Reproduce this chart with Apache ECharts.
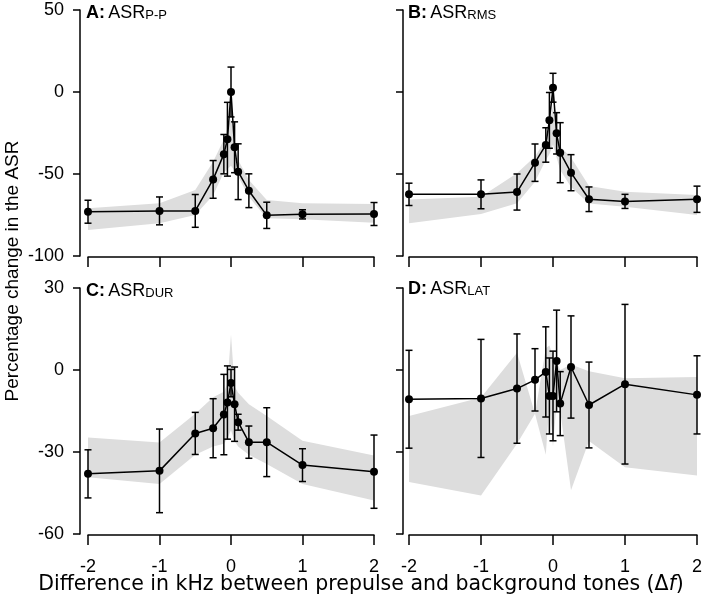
<!DOCTYPE html>
<html>
<head>
<meta charset="utf-8">
<script src="https://cdn.jsdelivr.net/npm/echarts@6/dist/echarts.min.js"></script>
<style>
html,body{margin:0;padding:0;background:#fff;}
#c{width:706px;height:601px;}
</style>
</head>
<body>
<div id="c"></div>
<script>
// ---- data ----
const xValues = [-2, -1, -0.5, -0.25, -0.1, -0.05, 0, 0.05, 0.1, 0.25, 0.5, 1, 2];
const xTickLabels = ['-2', '-1', '0', '1', '2'];
const yTicksTop = [-100, -50, 0, 50];
const yTicksBottom = [-60, -30, 0, 30];

// A: ASR P-P
const aMean = [-73, -72.5, -72.5, -53.3, -37.9, -28.8, 0, -33.7, -48.6, -60.2, -75.2, -74.6, -74.4];
const aErr  = [7, 8.5, 10, 11.5, 12, 22.5, 15.2, 15.5, 17, 10.3, 8, 2.8, 7];
const aBandHi = [-70.9, -67.9, -59.8, -42.5, -29, -22, -16, -28, -41.5, -53.7, -65.9, -67.9, -68.3];
const aBandLo = [-84.1, -80, -75, -63, -49, -47, -45, -48, -51.6, -63.8, -77, -77.6, -79.7];

// B: ASR RMS
const bMean = [-62.4, -62.4, -61, -43.1, -32.3, -17.3, 2.6, -25.2, -37, -49.2, -65.4, -66.7, -65.4];
const bErr  = [6.8, 8.8, 11, 11.4, 10.5, 17, 8.8, 12.6, 18.3, 11, 7.5, 4.3, 8];
const bBandHi = [-65.5, -63.8, -49.6, -39.4, -29, -20, -8, -25, -33.3, -40, -57.3, -60.8, -62.8];
const bBandLo = [-80, -74.4, -67.9, -54.7, -41.5, -38, -32, -40, -47.6, -58, -68, -69.9, -75];

// C: ASR DUR
const cMean = [-38, -36.9, -23.2, -21.3, -16.3, -11.9, -4.8, -12.5, -19.1, -26.4, -26.4, -34.8, -37.2];
const cErr  = [8.8, 15.3, 7.7, 10.8, 14.7, 13.4, 5, 13.6, 2.9, 5.9, 12.6, 6, 13.4];
const cBandHi = [-24.7, -26.5, -16, -10, -8, -5, 13, -6, -8.3, -12.5, -16.8, -25.9, -31.3];
const cBandLo = [-39.2, -41.7, -31, -28, -27, -25, -22, -26, -28, -31, -34.4, -41.7, -47.7];

// D: ASR LAT
const dMean = [-10.7, -10.4, -6.8, -3.6, -0.7, -9.5, -9.5, 3.3, -12.3, 1.1, -12.8, -5.2, -9.1];
const dErr  = [17.9, 21.6, 20, 11.4, 16.5, 13.9, 16.4, 18.6, 11.7, 18.7, 15.7, 29.2, 14.3];
const dBandHi = [-16.8, -10.1, 6.3, -16, 8, 9, 5, 3, 0, 2, -0.5, -3, -2.6];
const dBandLo = [-41, -45.9, -27, -16, -31, -12, -28, -12, -15, -44, -26, -35.6, -38.6];

// ---- chart ----
const FONT = '"Liberation Sans", Arial, sans-serif';
const TITLE_FONT = '"DejaVu Sans", sans-serif';
const BLACK = '#000';
const BAND = '#dddddd';

const panels = [
  {mean: aMean, err: aErr, hi: aBandHi, lo: aBandLo, grid: {left: 88, top: 10, width: 286, height: 246},
   yTicks: yTicksTop, yOffset: 8, showY: true, showX: false},
  {mean: bMean, err: bErr, hi: bBandHi, lo: bBandLo, grid: {left: 409, top: 10, width: 288, height: 246},
   yTicks: yTicksTop, yOffset: 6, showY: false, showX: false},
  {mean: cMean, err: cErr, hi: cBandHi, lo: cBandLo, grid: {left: 88, top: 288, width: 286, height: 246},
   yTicks: yTicksBottom, yOffset: 8, showY: true, showX: true},
  {mean: dMean, err: dErr, hi: dBandHi, lo: dBandLo, grid: {left: 409, top: 288, width: 288, height: 246},
   yTicks: yTicksBottom, yOffset: 6, showY: false, showX: true}
];

const axisLineStyle = {color: BLACK, width: 1.5};

const grid = panels.map(p => Object.assign({containLabel: false}, p.grid));
const xAxis = panels.map((p, i) => ({
  type: 'value', gridIndex: i, min: -2, max: 2, interval: 1, offset: 1,
  axisLine: {show: true, onZero: false, lineStyle: axisLineStyle},
  axisTick: {show: true, length: 10, lineStyle: axisLineStyle},
  axisLabel: {show: p.showX, color: BLACK, fontSize: 18, fontFamily: FONT, margin: 23,
    formatter: v => xTickLabels[Math.round(v) + 2]},
  splitLine: {show: false}
}));
const yAxis = panels.map((p, i) => ({
  type: 'value', gridIndex: i,
  min: p.yTicks[0], max: p.yTicks[p.yTicks.length - 1], interval: p.yTicks[1] - p.yTicks[0],
  offset: p.yOffset,
  axisLine: {show: true, onZero: false, lineStyle: axisLineStyle},
  axisTick: {show: true, length: 7, lineStyle: axisLineStyle},
  axisLabel: {show: p.showY, color: BLACK, fontSize: 18, fontFamily: FONT, margin: 16},
  splitLine: {show: false}
}));

const series = [];
panels.forEach((p, i) => {
  // shaded band
  series.push({
    type: 'custom', xAxisIndex: i, yAxisIndex: i, z: 1, silent: true, clip: false,
    data: xValues.map((x, k) => [x, p.lo[k], p.hi[k]]),
    encode: {x: 0, y: [1, 2]},
    renderItem: (params, api) => {
      if (params.dataIndex !== 0) return null;
      const pts = [];
      for (let k = 0; k < xValues.length; k++) pts.push(api.coord([xValues[k], p.hi[k]]));
      for (let k = xValues.length - 1; k >= 0; k--) pts.push(api.coord([xValues[k], p.lo[k]]));
      return {type: 'polygon', shape: {points: pts}, style: {fill: BAND, stroke: null}};
    }
  });
  // mean line with markers
  series.push({
    type: 'line', xAxisIndex: i, yAxisIndex: i, z: 3, silent: true,
    data: xValues.map((x, k) => [x, p.mean[k]]),
    symbol: 'circle', symbolSize: 8, showSymbol: true,
    itemStyle: {color: BLACK, borderWidth: 0},
    lineStyle: {color: BLACK, width: 1.5}
  });
  // error bars
  series.push({
    type: 'custom', xAxisIndex: i, yAxisIndex: i, z: 4, silent: true, clip: false,
    data: xValues.map((x, k) => [x, p.mean[k] - p.err[k], p.mean[k] + p.err[k]]),
    encode: {x: 0, y: [1, 2]},
    renderItem: (params, api) => {
      const x = api.value(0);
      const top = api.coord([x, api.value(2)]);
      const bot = api.coord([x, api.value(1)]);
      const w = 3.5;
      const st = {stroke: BLACK, lineWidth: 1.5};
      return {type: 'group', children: [
        {type: 'line', shape: {x1: top[0], y1: top[1], x2: bot[0], y2: bot[1]}, style: st},
        {type: 'line', shape: {x1: top[0] - w, y1: top[1], x2: top[0] + w, y2: top[1]}, style: st},
        {type: 'line', shape: {x1: bot[0] - w, y1: bot[1], x2: bot[0] + w, y2: bot[1]}, style: st}
      ]};
    }
  });
});

function panelTitle(letter, sub, x, y) {
  return {
    type: 'text', x: x, y: y, z: 10, silent: true,
    style: {
      text: '{b|' + letter + ':} {n|ASR}{s|' + sub + '}',
      rich: {
        b: {fontFamily: FONT, fontSize: 18, fontWeight: 'bold', fill: BLACK, verticalAlign: 'bottom', lineHeight: 20},
        n: {fontFamily: FONT, fontSize: 18, fill: BLACK, verticalAlign: 'bottom', lineHeight: 20},
        s: {fontFamily: FONT, fontSize: 13, fill: BLACK, verticalAlign: 'bottom', lineHeight: 17}
      },
      verticalAlign: 'middle', align: 'left'
    }
  };
}

const graphic = [
  panelTitle('A', 'P-P', 86, 12),
  panelTitle('B', 'RMS', 408, 12),
  panelTitle('C', 'DUR', 86, 290),
  panelTitle('D', 'LAT', 408, 288),
  {
    type: 'text', x: 13, y: 271, rotation: Math.PI / 2, silent: true,
    style: {text: 'Percentage change in the ASR', fontFamily: FONT, fontSize: 19, fill: BLACK,
      align: 'center', verticalAlign: 'middle'}
  },
  {
    type: 'text', x: 361, y: 585, silent: true,
    style: {
      text: '{n|Difference in kHz between prepulse and background tones (Δ}{i|f}{n|)}',
      rich: {
        n: {fontFamily: TITLE_FONT, fontSize: 20.5, fill: BLACK},
        i: {fontFamily: TITLE_FONT, fontSize: 20.5, fontStyle: 'italic', fill: BLACK}
      },
      align: 'center', verticalAlign: 'middle'
    }
  }
];

const chart = echarts.init(document.getElementById('c'), null, {renderer: 'canvas'});
chart.setOption({
  animation: false,
  backgroundColor: '#fff',
  grid: grid,
  xAxis: xAxis,
  yAxis: yAxis,
  series: series,
  graphic: graphic
});
</script>
</body>
</html>
